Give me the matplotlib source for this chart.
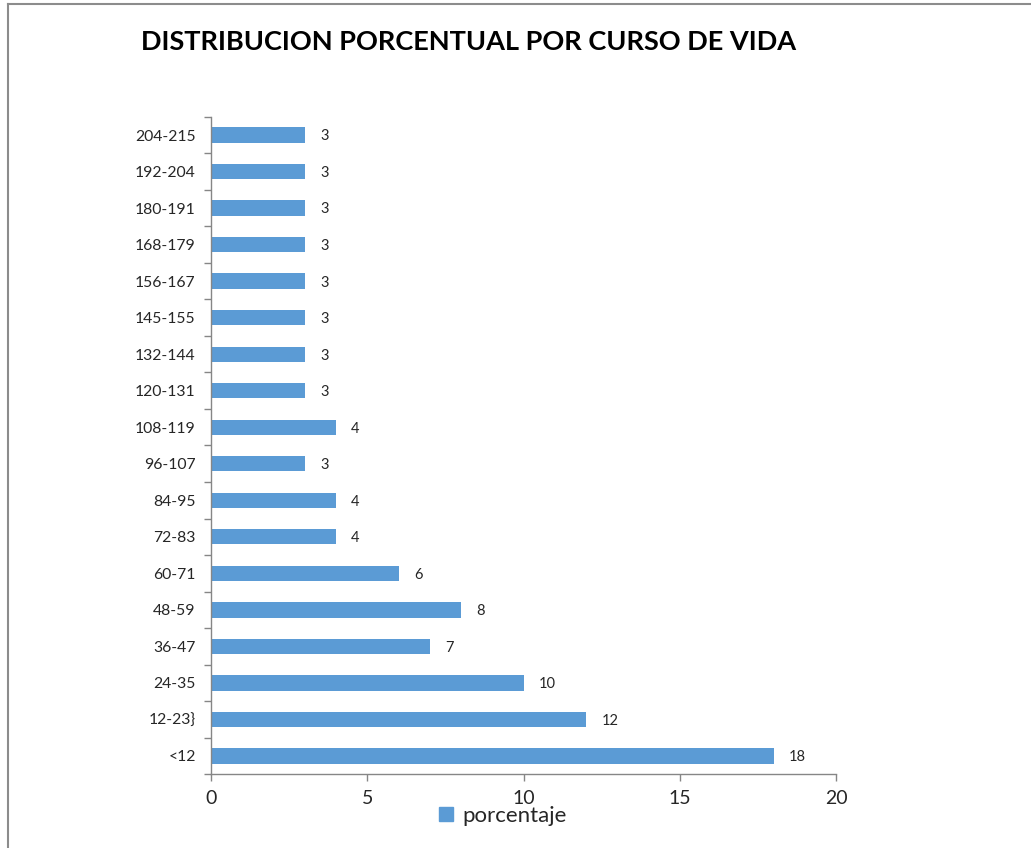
import matplotlib
matplotlib.use("Agg")
import matplotlib.pyplot as plt
from matplotlib.lines import Line2D
import numpy as np

categories = ["<12", "12-23}", "24-35", "36-47", "48-59", "60-71", "72-83", "84-95",
              "96-107", "108-119", "120-131", "132-144", "145-155", "156-167",
              "168-179", "180-191", "192-204", "204-215"]
porcentaje = [18, 12, 10, 7, 8, 6, 4, 4, 3, 4, 3, 3, 3, 3, 3, 3, 3, 3]
xticks = [0, 5, 10, 15, 20]

plt.rcParams['font.family'] = ['Lato', 'DejaVu Sans']

W, H = 1031, 848
fig = plt.figure(figsize=(W / 100, H / 100), dpi=100)

# outer chart border (top & left visible)
fig.add_artist(Line2D([8 / W, 8 / W], [0, 1 - 4 / H], transform=fig.transFigure,
                      color="#8c8c8c", lw=1.5))
fig.add_artist(Line2D([8 / W, 1], [1 - 4 / H, 1 - 4 / H], transform=fig.transFigure,
                      color="#8c8c8c", lw=1.5))

left, right = 211 / W, 836 / W
top, bottom = 116.75 / H, 774.25 / H
ax = fig.add_axes([left, 1 - bottom, right - left, bottom - top])

y = np.arange(len(categories))
color = "#5B9BD5"
ax.barh(y, porcentaje, height=0.42, color=color, label="porcentaje")
ax.set_ylim(-0.5, len(categories) - 0.5)
ax.set_xlim(0, 20)

for yi, v in zip(y, porcentaje):
    ax.annotate(str(v), (v, yi), xytext=(11, -1), textcoords="offset points",
                va="center", ha="left", fontsize=10.5, color="#262626")

ax.set_yticks(y)
ax.set_yticklabels(categories, fontsize=11.3, color="#262626")
ax.set_yticks(np.arange(-0.5, len(categories), 1), minor=True)
ax.tick_params(axis="y", which="major", length=0, pad=11)
ax.tick_params(axis="y", which="minor", length=5, color="#868686", width=1)

ax.set_xticks(xticks)
ax.set_xticklabels([str(t) for t in xticks], fontsize=14, color="#262626")
ax.tick_params(axis="x", length=5, color="#868686", width=1, pad=6)

for s in ["top", "right"]:
    ax.spines[s].set_visible(False)
for s in ["left", "bottom"]:
    ax.spines[s].set_color("#868686")
    ax.spines[s].set_linewidth(1)

fig.text(469 / W, 1 - 42 / H, "DISTRIBUCION PORCENTUAL POR CURSO DE VIDA",
         ha="center", va="center", fontsize=19.5, fontweight="bold", color="black")

leg = fig.legend(handles=[Line2D([], [], marker="s", ls="", color=color, markersize=10)],
                 labels=["porcentaje"], loc="center", bbox_to_anchor=(502 / W, 1 - 816 / H),
                 frameon=False, fontsize=16, handlelength=0.8, handletextpad=0.3,
                 borderpad=0)
for t in leg.get_texts():
    t.set_color("#262626")

fig.savefig("out.png", dpi=100)
